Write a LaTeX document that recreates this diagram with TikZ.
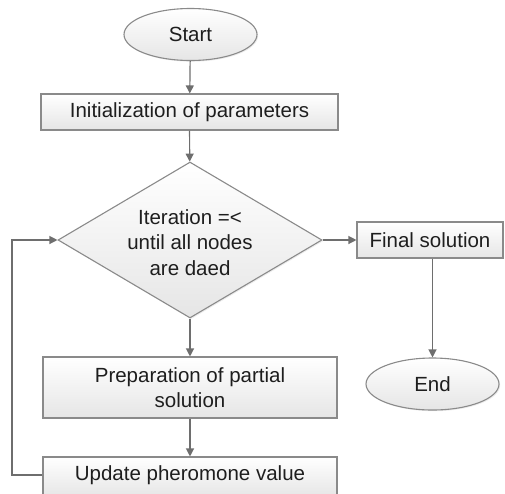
\documentclass[tikz,border=0pt]{standalone}
\usepackage{fontspec}
\setmainfont{Liberation Sans}
\usetikzlibrary{shapes.geometric,arrows.meta,shadows}
\definecolor{bordercol}{HTML}{8A8A8A}
\definecolor{linecol}{HTML}{6E6E6E}
\definecolor{txtcol}{HTML}{1E1E1E}
\tikzset{
  base/.style={draw=bordercol, line width=1.1pt, top color=white, bottom color=black!10,
    text=txtcol, inner sep=0pt, align=center,
    font=\fontsize{20.5pt}{25.5pt}\selectfont,
    drop shadow={opacity=0.15, shadow xshift=1.2pt, shadow yshift=-1.2pt}},
  procbox/.style={base, rectangle},
  termbox/.style={base, ellipse},
  decbox/.style={base, diamond},
  plain/.style={text=txtcol, align=center, font=\fontsize{20.5pt}{25.5pt}\selectfont, inner sep=0pt},
  conn/.style={draw=linecol, line width=1.2pt, -{Triangle[length=8pt,width=8pt]}}
}
\begin{document}
\begin{tikzpicture}[x=1pt,y=-1pt]
\useasboundingbox (0,0) rectangle (505,493);
\node[termbox, minimum width=133pt, minimum height=52pt] (start) at (190.5,34.5) {Start};
\node[procbox, minimum width=297pt, minimum height=36pt] (init) at (189.5,112) {Initialization of parameters};
\node[decbox, minimum width=264pt, minimum height=156pt] (dia) at (190,240) {};
\node[plain] (diatext) at (190,242.5) {Iteration =<\\until all nodes\\are daed};
\node[procbox, minimum width=146pt, minimum height=36pt] (final) at (430,240) {Final solution};
\node[termbox, minimum width=133pt, minimum height=52pt] (end) at (432.5,384) {End};
\node[procbox, minimum width=294pt, minimum height=61pt] (prep) at (190,387.5) {Preparation of partial\\solution};
\node[procbox, minimum width=294pt, minimum height=40pt] (upd) at (190,477) {};
\node[plain] (updtext) at (190,475) {Update pheromone value};
\coordinate (loopc) at (12,475);
\draw[conn] (start) -- (init);
\draw[conn] (init) -- (dia);
\draw[conn] (dia) -- (final);
\draw[conn] (final.south -| end) -- (end);
\draw[conn] (dia) -- (prep);
\draw[conn] (prep) -- (upd);
\draw[conn] (upd.west |- loopc) -- (loopc) |- (dia.west);
\end{tikzpicture}
\end{document}
